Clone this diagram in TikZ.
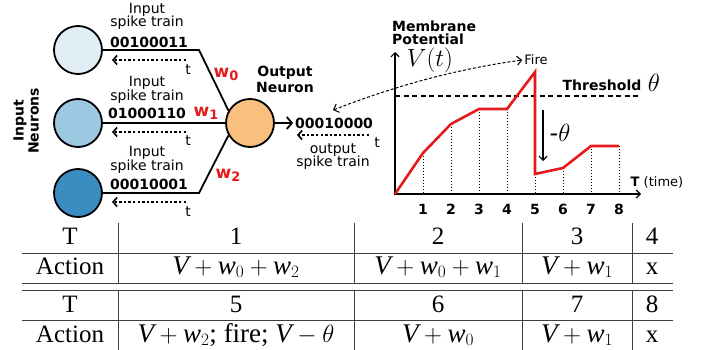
\documentclass[tikz,border=0pt]{standalone}
\usepackage{fontspec}
\setmainfont{Liberation Serif}
\newfontfamily\dv{DejaVu Sans}
\usetikzlibrary{arrows.meta}
\definecolor{cA}{HTML}{E2EEF6}
\definecolor{cB}{HTML}{9DC8E2}
\definecolor{cC}{HTML}{3A8CC1}
\definecolor{cOut}{HTML}{F9BF7E}
\definecolor{wred}{HTML}{E41A1C}
\begin{document}
\begin{tikzpicture}[x=1pt,y=-1pt,
  neuron/.style={circle,draw,line width=1.8pt,minimum size=48pt,inner sep=0pt},
  lab/.style={font=\dv\fontsize{14}{14}\selectfont,inner sep=0pt},
  blab/.style={font=\dv\bfseries\fontsize{14}{14}\selectfont,inner sep=0pt},
  wlab/.style={font=\dv\bfseries\fontsize{17}{17}\selectfont,text=wred,inner sep=0pt},
  conn/.style={line width=1.8pt},
  tarrow/.style={line width=2.4pt,dash pattern=on 2.4pt off 2.2pt,
     -{Straight Barb[length=4pt,width=9pt,line width=1.6pt]}},
  axis/.style={line width=1.2pt},
  tbl/.style={font=\fontsize{25}{25}\selectfont,inner sep=0pt,anchor=base},
  tbm/.style={font=\fontsize{27}{27}\selectfont,inner sep=0pt,anchor=base},
  rule/.style={line width=0.8pt,draw=black!75},
  vdot/.style={line width=0.9pt,dash pattern=on 1.2pt off 1.8pt}
]
\useasboundingbox (0,0) rectangle (702,350);

% input neurons
\node[neuron,fill=cA] (in0) at (78,50) {};
\node[neuron,fill=cB] (in1) at (78,123) {};
\node[neuron,fill=cC] (in2) at (78,193) {};
\node[neuron,fill=cOut] (out) at (250,123) {};

\coordinate (k0) at (199,50);
\coordinate (k2) at (199,193);
\draw[conn] (in0.east) -- (k0) -- (out.150);
\draw[conn] (in1.east) -- (out.west);
\draw[conn] (in2.east) -- (k2) -- (out.210);

\node[blab,rotate=90,align=center] (inN) at (26,121) {Input\\[1pt]Neurons};

% spike train labels
\node[lab] (i0a) at (147,10) {Input};
\node[lab] (i0b) at (147,23) {spike train};
\node[blab] (b0) at (149,42) {00100011};
\node[lab] (i1a) at (147,83) {Input};
\node[lab] (i1b) at (147,97) {spike train};
\node[blab] (b1) at (147,113) {01000110};
\node[lab] (i2a) at (147,153) {Input};
\node[lab] (i2b) at (147,167) {spike train};
\node[blab] (b2) at (149,184) {00010001};

\coordinate (d0s) at (186,60); \coordinate (d0e) at (112,60);
\coordinate (d1s) at (186,132); \coordinate (d1e) at (112,132);
\coordinate (d2s) at (186,202); \coordinate (d2e) at (112,202);
\draw[tarrow] (d0s) -- (d0e);
\draw[tarrow] (d1s) -- (d1e);
\draw[tarrow] (d2s) -- (d2e);
\node[lab] (t0) at (188,70) {t};
\node[lab] (t1) at (188,141) {t};
\node[lab] (t2) at (188,212) {t};

% weights
\node[wlab] (w0) at (226,74) {w\raisebox{-3pt}{\fontsize{13}{13}\selectfont 0}};
\node[wlab] (w1) at (206,113) {w\raisebox{-3pt}{\fontsize{13}{13}\selectfont 1}};
\node[wlab] (w2) at (228,175) {w\raisebox{-3pt}{\fontsize{13}{13}\selectfont 2}};

% output
\node[blab] (on1) at (285,73) {Output};
\node[blab] (on2) at (285,87) {Neuron};
\coordinate (osp) at (293,123);
\draw[conn,-{Straight Barb[length=5pt,width=12pt,line width=1.8pt]}] (out.east) -- (osp);
\node[blab] (obits) at (334,123) {00010000};
\coordinate (ods) at (369,135); \coordinate (ode) at (297,135);
\draw[tarrow] (ods) -- (ode);
\node[lab] (ot) at (377,143) {t};
\node[lab] (ol1) at (333,150) {output};
\node[lab] (ol2) at (333,163) {spike train};

% graph
\coordinate (O) at (395,194);
\coordinate (ytop) at (395,52);
\coordinate (xend) at (641,194);
\draw[axis,{Straight Barb[length=4pt,width=8pt]}-{Straight Barb[length=4pt,width=8pt]}] (ytop) -- (O) -- (xend);
\node[blab,anchor=west] (mem1) at (392,26) {Membrane};
\node[blab,anchor=west] (mem2) at (392,39) {Potential};
\node[font=\fontsize{24}{24}\selectfont,inner sep=0pt] (vt) at (430,60) {$V(t)$};
\node[lab,font=\dv\fontsize{13}{13}\selectfont] (fire) at (536,60) {Fire};
\node[blab] (thr) at (602,85) {Threshold};
\node[font=\fontsize{26}{26}\selectfont,inner sep=0pt] (thsym) at (654,83) {$\theta$};
\draw[line width=1.6pt,dash pattern=on 5pt off 3.5pt] (395,96) -- (640,96);

\foreach \k/\yy in {1/153,2/124,3/109,4/109,5/174,6/168,7/146,8/146}{
  \draw[vdot] (395+28*\k,\yy) -- (395+28*\k,194);
  \node[blab] (tk\k) at (395+28*\k,209) {\k};
}
\draw[line width=2.6pt,draw=wred,line join=miter] (395,194) -- (423,153) -- (451,124) -- (479,109) -- (507,109) -- (535,72) -- (535,174) -- (563,168) -- (591,146) -- (619,146);

\coordinate (mta) at (543,110); \coordinate (mtb) at (543,161);
\draw[line width=1.2pt,-{Straight Barb[length=4pt,width=8pt]}] (mta) -- (mtb);
\node[font=\fontsize{24}{24}\selectfont,inner sep=0pt] (mth) at (560,133) {{\dv -}$\theta$};
\node[inner sep=0pt,font=\dv\fontsize{13}{13}\selectfont] (tt) at (657,182) {{\bfseries T} (time)};

% dashed fire curve
\coordinate (fs) at (333,110);
\draw[line width=1pt,dash pattern=on 3pt off 2pt,{Straight Barb[length=4.5pt,width=9pt]}-{Straight Barb[length=4.5pt,width=9pt]}]
  (fs) .. controls (390,88) and (450,70) .. ([xshift=-2pt]fire.west);

% table
\foreach \yy in {253,283,290,320}{ \draw[rule] (22,\yy) -- (673,\yy); }
\foreach \xx in {118,354,522,632}{
  \draw[rule] (\xx,223) -- (\xx,283);
  \draw[rule] (\xx,290) -- (\xx,350);
}
\node[tbl] (r1c0) at (70,244) {T};
\node[tbl] (r1c1) at (236,244) {1};
\node[tbl] (r1c2) at (438,244) {2};
\node[tbl] (r1c3) at (577,244) {3};
\node[tbl] (r1c4) at (652,244) {4};
\node[tbl] (r2c0) at (70,274) {Action};
\node[tbm] (r2c1) at (236,274) {$\mathit{V}+\mathit{w}_0+\mathit{w}_2$};
\node[tbm] (r2c2) at (438,274) {$\mathit{V}+\mathit{w}_0+\mathit{w}_1$};
\node[tbm] (r2c3) at (577,274) {$\mathit{V}+\mathit{w}_1$};
\node[tbl] (r2c4) at (652,274) {x};
\node[tbl] (r3c0) at (70,312) {T};
\node[tbl] (r3c1) at (236,312) {5};
\node[tbl] (r3c2) at (438,312) {6};
\node[tbl] (r3c3) at (577,312) {7};
\node[tbl] (r3c4) at (652,312) {8};
\node[tbl] (r4c0) at (70,342) {Action};
\node[tbm] (r4c1) at (236,342) {$\mathit{V}+\mathit{w}_2$; fire; $\mathit{V}-\theta$};
\node[tbm] (r4c2) at (438,342) {$\mathit{V}+\mathit{w}_0$};
\node[tbm] (r4c3) at (577,342) {$\mathit{V}+\mathit{w}_1$};
\node[tbl] (r4c4) at (652,342) {x};
\end{tikzpicture}
\end{document}
